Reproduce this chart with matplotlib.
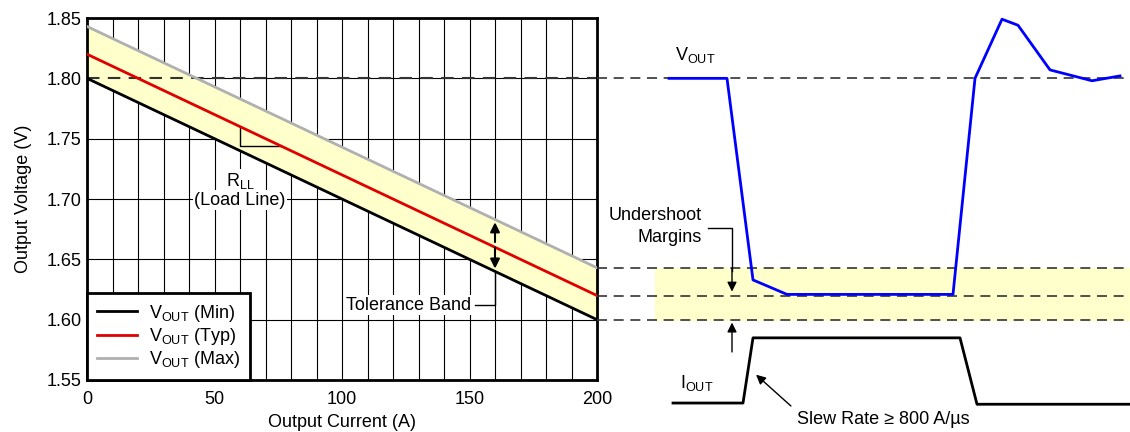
import matplotlib.pyplot as plt
import numpy as np

plt.rcParams['font.family'] = ['Liberation Sans', 'DejaVu Sans']
plt.rcParams['mathtext.fontset'] = 'custom'
plt.rcParams['mathtext.rm'] = 'Liberation Sans'
plt.rcParams['mathtext.it'] = 'Liberation Sans'

# load line data
current = np.array([0, 200])
v_min = np.array([1.800, 1.600])
v_typ = np.array([1.820, 1.620])
v_max = np.array([1.843, 1.643])
xticks = [0, 50, 100, 150, 200]
yticks = [1.55, 1.60, 1.65, 1.70, 1.75, 1.80, 1.85]

# transient sketch (arbitrary time units)
t_vout = np.array([72, 130, 156, 190, 356, 378, 405, 421, 453, 495, 523])
vout = np.array([1.800, 1.800, 1.633, 1.621, 1.621, 1.800, 1.849, 1.844, 1.807, 1.798, 1.802])
t_iout = np.array([76, 146, 156, 363, 380, 533])
iout = np.array([1.531, 1.531, 1.585, 1.585, 1.530, 1.530])
levels = [1.800, 1.643, 1.620, 1.600]

FS = 13
white = dict(facecolor='white', edgecolor='none', pad=1)

fig = plt.figure(figsize=(11.3, 4.32), dpi=100)
ax = fig.add_axes([87/1130, 52/432, 510/1130, 362/432])
ax2 = fig.add_axes([597/1130, 0, 533/1130, 1])

# left: load line chart
ax.fill_between(current, v_min, v_max, color='#ffffcc', zorder=1)
ax.axhline(1.80, color='#333333', ls=(0, (6, 4)), lw=1.5, zorder=2)
ax.plot(current, v_min, color='black', lw=2, label=r'V$_{\rm OUT}$ (Min)', zorder=4)
ax.plot(current, v_typ, color='#e00000', lw=2, label=r'V$_{\rm OUT}$ (Typ)', zorder=4)
ax.plot(current, v_max, color='#b0b0b0', lw=2, label=r'V$_{\rm OUT}$ (Max)', zorder=4)
ax.set_xlim(0, 200)
ax.set_ylim(1.55, 1.85)
ax.set_xticks(xticks)
ax.set_yticks(yticks)
ax.set_xticks(np.arange(0, 201, 10), minor=True)
ax.yaxis.set_major_formatter(plt.FormatStrFormatter('%.2f'))
ax.tick_params(which='both', length=0, labelsize=FS)
ax.tick_params(axis='x', pad=8)
ax.tick_params(axis='y', pad=4)
ax.grid(True, which='both', axis='x', color='black', lw=0.8, zorder=0)
ax.grid(True, which='major', axis='y', color='black', lw=0.8, zorder=0)
ax.set_axisbelow(True)
for s in ax.spines.values():
    s.set_linewidth(2)
ax.set_xlabel('Output Current (A)', fontsize=FS, labelpad=4)
ax.set_ylabel('Output Voltage (V)', fontsize=FS, labelpad=10)

# R_LL triangle
ax.plot([60, 60, 76], [1.76, 1.744, 1.744], color='black', lw=1, zorder=3)
ax.text(60, 1.715, r'R$_{\rm LL}$', ha='center', va='center', fontsize=FS, bbox=white, zorder=3)
ax.text(60, 1.699, '(Load Line)', ha='center', va='center', fontsize=FS, bbox=white, zorder=3)

# tolerance band
ax.annotate('', xy=(160, 1.683), xytext=(160, 1.662),
            arrowprops=dict(arrowstyle='-|>', color='black', lw=1.5, mutation_scale=14), zorder=5)
ax.annotate('', xy=(160, 1.640), xytext=(160, 1.662),
            arrowprops=dict(arrowstyle='-|>', color='black', lw=1.5, mutation_scale=14), zorder=5)
ax.plot([160, 160, 152], [1.640, 1.612, 1.612], color='black', lw=1, zorder=5)
ax.text(150.5, 1.612, 'Tolerance Band', ha='right', va='center', fontsize=FS, bbox=white, zorder=3)

leg = ax.legend(loc='lower left', fontsize=FS, frameon=True, fancybox=False,
                borderaxespad=0, handlelength=2.2, borderpad=0.55, labelspacing=0.12,
                handletextpad=0.7)
leg.get_frame().set_edgecolor('black')
leg.get_frame().set_linewidth(2)
leg.get_frame().set_alpha(1)

# right: transient sketch
ax2.set_xlim(0, 533)
ax2.set_ylim(1.85 - 414/1207, 1.85 + 18/1207)
ax2.axis('off')
ax2.axhspan(1.600, 1.643, xmin=58/533, xmax=1, color='#ffffcc', zorder=0)
for lv in levels:
    ax2.axhline(lv, color='#333333', ls=(0, (6, 4)), lw=1.2, zorder=1)
ax2.plot(t_vout, vout, color='#0000ff', lw=2, zorder=3)
ax2.plot(t_iout, iout, color='black', lw=2, zorder=3)
ax2.text(98, 1.819, r'V$_{\rm OUT}$', ha='center', va='center', fontsize=FS)
ax2.text(100, 1.548, r'I$_{\rm OUT}$', ha='center', va='center', fontsize=FS)
ax2.text(105, 1.677, 'Undershoot\nMargins', ha='right', va='center', fontsize=FS,
         multialignment='right', linespacing=1.4)
ax2.plot([111, 135, 135], [1.676, 1.676, 1.64], color='black', lw=1)
ax2.annotate('', xy=(135, 1.621), xytext=(135, 1.645),
             arrowprops=dict(arrowstyle='-|>', color='black', lw=1, mutation_scale=14))
ax2.annotate('', xy=(135, 1.600), xytext=(135, 1.571),
             arrowprops=dict(arrowstyle='-|>', color='black', lw=1, mutation_scale=14))
ax2.annotate('', xy=(157, 1.556), xytext=(196, 1.527),
             arrowprops=dict(arrowstyle='-|>', color='black', lw=1, mutation_scale=14))
ax2.text(286, 1.517, 'Slew Rate \u2265 800 A/\u00b5s', ha='center', va='center', fontsize=FS)

fig.savefig('out.png', dpi=100)
